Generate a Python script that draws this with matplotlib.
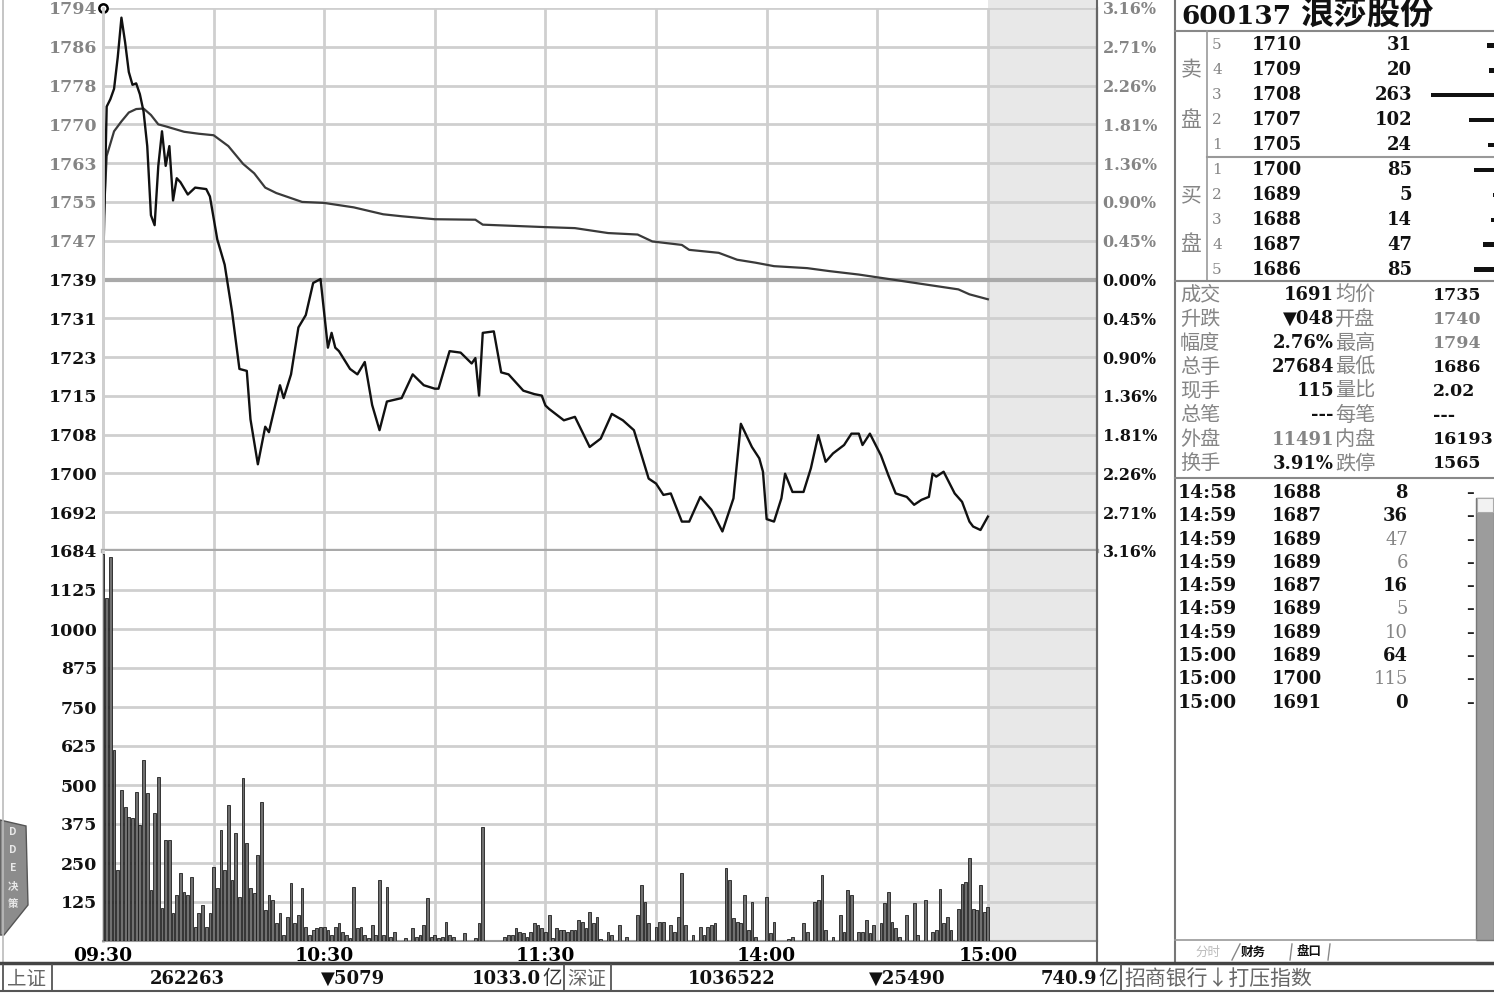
import numpy as np
import matplotlib
matplotlib.use('Agg')
import matplotlib.pyplot as plt
from matplotlib.lines import Line2D
from matplotlib.patches import Rectangle, Polygon

NUM = ['DejaVu Serif', 'DejaVu Sans', 'Noto Sans CJK SC']
CJK = ['Noto Sans CJK SC', 'DejaVu Sans']

# ---- dados do grafico de minuto (minutos desde 09:30, sem o almoco) ----
preco_t = [0, 1, 2, 3, 4, 5, 6, 7, 8, 9, 10, 11, 12, 13, 14, 15, 16, 17, 18, 19, 20,
           21, 23, 25, 28, 29, 31, 33, 35, 37, 39, 40, 42, 44, 45, 48, 49, 51, 53, 55,
           57, 59, 61, 62, 63, 64, 67, 69, 71, 73, 75, 77, 81, 84, 87, 90, 91, 94, 97,
           100, 101, 102, 103, 106, 108, 110, 114, 117, 119, 120,
           121, 125, 128, 132, 135, 138, 141, 144, 148, 150, 152, 154, 157, 159, 162,
           165, 168, 171, 173, 176, 178, 179, 180, 182, 184, 185, 187, 190, 192, 194,
           196, 198, 201, 203, 205, 206, 208, 211, 213, 215, 218, 220, 222, 224, 225,
           226, 228, 231, 233, 235, 236, 238, 240]
preco_v = [1740, 1774, 1775.5, 1777.6, 1784, 1792, 1787, 1781, 1778.4, 1778.7, 1776.5,
           1773, 1766, 1752, 1750, 1762, 1769, 1762, 1766, 1755, 1759.5,
           1758.7, 1756.2, 1757.6, 1757.3, 1755.8, 1747.1, 1742, 1732.5, 1720.9, 1720.5,
           1710.7, 1701.6, 1709.2, 1708.1, 1717.6, 1715, 1719.8, 1729.3, 1731.8,
           1738.3, 1739.1, 1725.2, 1728.2, 1725.2, 1724.5, 1720.9, 1719.8, 1722.3, 1713.6,
           1708.5, 1714.3, 1715, 1719.8, 1717.6, 1716.9, 1716.9, 1724.5, 1724.2,
           1722, 1723.1, 1715.5, 1728.2, 1728.5, 1720.2, 1719.8, 1716.5, 1715.8, 1715.5, 1713.5,
           1712.8, 1710.5, 1711.2, 1705.1, 1706.8, 1711.8, 1710.5, 1708.5, 1698.7, 1697.7,
           1695.4, 1695.7, 1690, 1690, 1695, 1692.4, 1688, 1694.7, 1709.8, 1705.1, 1702.8,
           1700.1, 1690.5, 1690, 1694.7, 1699.7, 1696, 1696, 1700.8, 1707.5, 1702.1, 1703.8,
           1705.5, 1707.8, 1707.8, 1705.5, 1707.8, 1703.4, 1699.4, 1695.7, 1695, 1693.4,
           1694.4, 1695, 1699.7, 1699.1, 1700.1, 1695.7, 1694, 1690, 1689, 1688.3, 1691]

media_t = [0, 1, 2, 3, 5, 7, 9, 11, 13, 15, 17, 22, 26, 30, 34, 38, 41, 44, 47, 54, 60,
           68, 76, 81, 90, 101, 103, 120, 128, 137, 145, 149, 157, 159, 167, 172, 177,
           182, 191, 197, 205, 214, 223, 232, 235, 240]
media_v = [1748, 1764, 1766.5, 1769, 1771, 1772.8, 1773.5, 1773.6, 1772.3, 1770.4, 1770,
           1768.9, 1768.5, 1768.2, 1766, 1762.4, 1760.5, 1757.6, 1756.5, 1754.7, 1754.5,
           1753.6, 1752.2, 1751.8, 1751.2, 1751.1, 1750.1, 1749.6, 1749.4, 1748.4, 1748.1,
           1746.7, 1746, 1745, 1744.4, 1743, 1742.4, 1741.7, 1741.3, 1740.7, 1740, 1739,
           1738, 1737, 1736, 1735]

vol_manha = [1240, 1100, 1232, 612, 228, 484, 430, 399, 393, 479,
             372, 580, 473, 163, 409, 527, 105, 324, 324, 89,
             147, 217, 158, 147, 206, 46, 89, 115, 46, 89,
             238, 169, 356, 228, 436, 195, 345, 142, 521, 313,
             169, 153, 276, 447, 99, 147, 131, 57, 89, 19,
             78, 185, 57, 83, 169, 46, 19, 35, 41, 46,
             46, 35, 19, 46, 57, 30, 19, 9, 174, 41,
             46, 19, 9, 51, 19, 195, 19, 174, 14, 30,
             0, 0, 9, 0, 41, 14, 19, 51, 137, 14,
             19, 9, 14, 62, 19, 14, 0, 0, 25, 0,
             0, 9, 57, 366, 0, 0, 0, 0, 0, 14,
             19, 19, 41, 30, 25, 14, 30, 57, 51, 41,
             30]
vol_tarde = [83, 9, 41, 35, 35, 30, 35, 35, 67, 62,
             41, 94, 57, 78, 8, 0, 30, 19, 0, 51,
             0, 14, 0, 0, 83, 179, 126, 57, 0, 46,
             62, 62, 0, 51, 30, 78, 217, 51, 0, 19,
             0, 46, 19, 46, 51, 57, 0, 0, 233, 196,
             73, 62, 57, 147, 35, 126, 14, 0, 0, 142,
             25, 62, 0, 0, 0, 8, 14, 0, 0, 57,
             30, 0, 126, 131, 212, 35, 0, 14, 0, 83,
             30, 163, 147, 0, 30, 30, 67, 25, 51, 0,
             57, 121, 158, 62, 41, 14, 0, 83, 0, 121,
             19, 0, 131, 0, 30, 35, 168, 57, 78, 35,
             0, 104, 184, 190, 265, 104, 99, 179, 94, 110]

fechamento_ant = 1739
rotulos_preco = ['1794', '1786', '1778', '1770', '1763', '1755', '1747', '1739',
                 '1731', '1723', '1715', '1708', '1700', '1692', '1684']
rotulos_pct = ['3.16%', '2.71%', '2.26%', '1.81%', '1.36%', '0.90%', '0.45%', '0.00%',
               '0.45%', '0.90%', '1.36%', '1.81%', '2.26%', '2.71%', '3.16%']
rotulos_vol = ['1125', '1000', '875', '750', '625', '500', '375', '250', '125']
vol_ticks = [1125, 1000, 875, 750, 625, 500, 375, 250, 125]
horas = ['09:30', '10:30', '11:30', '14:00', '15:00']

# ---- painel da direita ----
titulo_cod = '600137'
titulo_nome = '浪莎股份'
niveis = ['5', '4', '3', '2', '1', '1', '2', '3', '4', '5']
book_precos = ['1710', '1709', '1708', '1707', '1705', '1700', '1689', '1688', '1687', '1686']
book_vols = [31, 20, 263, 102, 24, 85, 5, 14, 47, 85]

est_rot1 = ['成交', '升跌', '幅度', '总手', '现手', '总笔', '外盘', '换手']
est_val1 = ['1691', '▼048', '2.76%', '27684', '115', '---', '11491', '3.91%']
est_rot2 = ['均价', '开盘', '最高', '最低', '量比', '每笔', '内盘', '跌停']
est_val2 = ['1735', '1740', '1794', '1686', '2.02', '---', '16193', '1565']
est_cinza1 = [False, False, False, False, False, False, True, False]
est_cinza2 = [False, True, True, False, False, False, False, False]

neg_hora = ['14:58', '14:59', '14:59', '14:59', '14:59', '14:59', '14:59', '15:00', '15:00', '15:00']
neg_preco = ['1688', '1687', '1689', '1689', '1687', '1689', '1689', '1689', '1700', '1691']
neg_vol = [8, 36, 47, 6, 16, 5, 10, 64, 115, 0]
neg_escuro = [True, True, False, False, True, False, False, True, False, True]

barra_status = ['上证', '262263', '▼5079', '1033.0', '亿', '深证', '1036522', '▼25490', '740.9', '亿',
                '招商银行↓打压指数']

W, H = 1494, 993
fig = plt.figure(figsize=(W / 100, H / 100), dpi=100)


def rect(x0, y0, x1, y1):
    return [x0 / W, 1 - y1 / H, (x1 - x0) / W, (y1 - y0) / H]


def linha(x0, y0, x1, y1, cor='#888888', lw=1.2):
    fig.add_artist(Line2D([x0 / W, x1 / W], [1 - y0 / H, 1 - y1 / H], color=cor, lw=lw))


def texto(x, y, s, tam, cor='#111111', peso='bold', ha='left', fam=NUM):
    fig.text(x / W, 1 - y / H, s, fontsize=tam, color=cor, fontweight=peso,
             ha=ha, va='center', family=fam)


cinza_txt = '#858585'
grade = '#cfcfcf'
sombra = '#e8e8e8'
xmax = 269.6
lo = fechamento_ant * (1 - 0.0316)
hi = fechamento_ant * (1 + 0.0316)

# ---- painel de preco ----
axp = fig.add_axes(rect(103, 8, 1097, 551))
axp.axvspan(240, xmax, color=sombra, zorder=0, lw=0)
axp.plot(media_t, media_v, color='#3a3a3a', lw=1.6, zorder=3)
axp.plot(preco_t, preco_v, color='#111111', lw=1.7, zorder=4)
axp.axhline(fechamento_ant, color='#a9a9a9', lw=3, zorder=1)
axp.plot([0], [hi], marker='o', ms=6, mfc='white', mec='black', mew=1.8, clip_on=False, zorder=5)
axp.set_xlim(0, xmax)
axp.set_ylim(lo, hi)
pos = np.linspace(hi, lo, 15)
axp.set_yticks(pos)
axp.set_yticklabels(rotulos_preco)
axp.set_xticks(range(0, 241, 30))
axp.tick_params(axis='x', length=0, labelbottom=False)
axp.tick_params(axis='y', length=0, pad=4)
axp.grid(True, color=grade, lw=2)
axp.set_axisbelow(True)
for i, t in enumerate(axp.get_yticklabels()):
    t.set_family(NUM)
    t.set_fontweight('bold')
    t.set_fontsize(12.5)
    t.set_color(cinza_txt if i < 7 else '#111111')
axd = axp.twinx()
axd.set_ylim(lo, hi)
axd.set_yticks(pos)
axd.set_yticklabels(rotulos_pct)
axd.tick_params(axis='y', length=0, pad=4)
for i, t in enumerate(axd.get_yticklabels()):
    t.set_family(NUM)
    t.set_fontweight('bold')
    t.set_fontsize(11.5)
    t.set_color(cinza_txt if i < 7 else '#111111')
for a in (axp, axd):
    a.spines['top'].set_visible(False)
    a.spines['left'].set_color(grade)
    a.spines['left'].set_linewidth(2)
    a.spines['right'].set_color('#666666')
    a.spines['right'].set_linewidth(1.5)
    a.spines['bottom'].set_color('#a9a9a9')
    a.spines['bottom'].set_linewidth(3)

# ---- painel de volume ----
axv = fig.add_axes(rect(103, 551, 1097, 941))
axv.axvspan(240, xmax, color=sombra, zorder=0, lw=0)
vols = vol_manha + vol_tarde
axv.bar(np.arange(len(vols)), vols, width=0.75, color='#707070', edgecolor='#1e1e1e',
        linewidth=0.6, zorder=3)
axv.set_xlim(0, xmax)
axv.set_ylim(0, 1250)
axv.set_yticks(vol_ticks)
axv.set_yticklabels(rotulos_vol)
axv.set_xticks(range(0, 241, 30))
axv.set_xticklabels([horas[i // 2] if i % 2 == 0 else '' for i in range(9)])
axv.tick_params(length=0, pad=4)
axv.grid(True, color=grade, lw=2)
axv.set_axisbelow(True)
for t in axv.get_yticklabels():
    t.set_family(NUM)
    t.set_fontweight('bold')
    t.set_fontsize(12.5)
    t.set_color('#111111')
for t in axv.get_xticklabels():
    t.set_family(NUM)
    t.set_fontweight('bold')
    t.set_fontsize(13.5)
axv.spines['top'].set_visible(False)
axv.spines['left'].set_color(grade)
axv.spines['left'].set_linewidth(2)
axv.spines['right'].set_color('#666666')
axv.spines['right'].set_linewidth(1.5)
axv.spines['bottom'].set_color('#9a9a9a')
axv.spines['bottom'].set_linewidth(1.5)

# faixa sombreada acima do painel
fig.add_artist(Rectangle((988 / W, 1 - 8 / H), 109 / W, 8 / H, transform=fig.transFigure,
                         facecolor=sombra, lw=0))

# molduras
linha(1097, 0, 1097, 963, '#666666', 1.5)
linha(1175, 0, 1175, 963, '#777777', 1.5)
linha(3, 0, 3, 963, '#bbbbbb', 1.2)

# aba DDE a esquerda
fig.add_artist(Polygon([[0, 1 - 820 / H], [26 / W, 1 - 826 / H], [28 / W, 1 - 905 / H],
                        [4 / W, 1 - 935 / H], [0, 1 - 935 / H]], closed=True,
                       facecolor='#8c8c8c', edgecolor='#555555', lw=1))
for k, ch in enumerate(['D', 'D', 'E', '决', '策']):
    texto(13, 832 + k * 18, ch, 7.5, '#e8e8e8', 'bold', 'center', CJK)

# ---- cabecalho do painel direito ----
texto(1181, 16, titulo_cod, 19, '#111111')
texto(1300, 15, titulo_nome, 24, '#111111', 'bold', 'left', CJK)
linha(1175, 31, 1494, 31, '#888888', 1.5)
linha(1207, 31, 1207, 281, '#999999', 1.2)
linha(1207, 157, 1494, 157, '#999999', 1.5)
linha(1175, 281, 1494, 281, '#888888', 1.5)
linha(1175, 478, 1494, 478, '#888888', 1.5)

passo = 24.9
for i in range(10):
    y = 33 + (i + 0.5) * passo
    texto(1217, y, niveis[i], 11, cinza_txt, 'normal', 'center')
    texto(1252, y, book_precos[i], 13, '#111111')
    texto(1412, y, str(book_vols[i]), 13, '#111111', 'bold', 'right')
for ch, y in [('卖', 70), ('盘', 120), ('买', 195), ('盘', 244)]:
    texto(1191, y, ch, 15, cinza_txt, 'normal', 'center', CJK)

axb = fig.add_axes(rect(1430, 33, 1494, 282))
axb.barh(range(10), book_vols, height=0.18, color='#111111')
axb.set_xlim(266, 0)
axb.set_ylim(9.5, -0.5)
axb.axis('off')

# estatisticas
for i in range(8):
    y = 295 + i * 24.1
    texto(1180, y, est_rot1[i], 14.5, cinza_txt, 'normal', 'left', CJK)
    texto(1334, y, est_val1[i], 13, cinza_txt if est_cinza1[i] else '#111111', 'bold', 'right')
    texto(1335, y, est_rot2[i], 14.5, cinza_txt, 'normal', 'left', CJK)
    texto(1433, y, est_val2[i], 12.5, cinza_txt if est_cinza2[i] else '#111111')

# negocios
fig.add_artist(Rectangle((1476 / W, 1 - 940 / H), 18 / W, 442 / H, transform=fig.transFigure,
                         facecolor='#9c9c9c', edgecolor='#777777', lw=1))
fig.add_artist(Rectangle((1477 / W, 1 - 512 / H), 16 / W, 14 / H, transform=fig.transFigure,
                         facecolor='#f2f2f2', edgecolor='#aaaaaa', lw=0.8))
for i in range(10):
    y = 493 + i * 23.3
    texto(1178, y, neg_hora[i], 13.5, '#111111')
    texto(1272, y, neg_preco[i], 13, '#111111')
    texto(1408, y, str(neg_vol[i]), 13, '#111111' if neg_escuro[i] else cinza_txt,
          'bold' if neg_escuro[i] else 'normal', 'right')
    texto(1470, y, '–', 11, '#222222', 'bold', 'center')

# abas inferiores
linha(1175, 940, 1476, 940, '#999999', 1.2)
texto(1208, 952, '分时', 9, '#bbbbbb', 'normal', 'center', CJK)
linha(1232, 960, 1240, 944, '#888888', 1)
texto(1253, 952, '财务', 9, '#111111', 'bold', 'center', CJK)
texto(1309, 952, '盘口', 9, '#111111', 'bold', 'center', CJK)
linha(1290, 960, 1292, 944, '#888888', 1)
linha(1328, 960, 1330, 944, '#888888', 1)

# barra de status
linha(0, 963, 1494, 963, '#444444', 2.5)
linha(0, 991, 1494, 991, '#555555', 1.5)
for xd in (3, 52, 564, 611, 1121):
    linha(xd, 965, xd, 991, '#555555', 1.3)
ys = 979
texto(27, ys, barra_status[0], 14, '#666666', 'normal', 'center', CJK)
texto(187, ys, barra_status[1], 13, '#111111', 'bold', 'center')
texto(353, ys, barra_status[2], 13, '#111111', 'bold', 'center')
texto(541, ys, barra_status[3], 13, '#111111', 'bold', 'right')
texto(542, ys, barra_status[4], 14, '#333333', 'normal', 'left', CJK)
texto(587, ys, barra_status[5], 14, '#666666', 'normal', 'center', CJK)
texto(732, ys, barra_status[6], 13, '#111111', 'bold', 'center')
texto(907, ys, barra_status[7], 13, '#111111', 'bold', 'center')
texto(1097, ys, barra_status[8], 13, '#111111', 'bold', 'right')
texto(1098, ys, barra_status[9], 14, '#333333', 'normal', 'left', CJK)
texto(1124, ys, barra_status[10], 15, '#666666', 'normal', 'left', CJK)

fig.savefig('out.png', dpi=100)
